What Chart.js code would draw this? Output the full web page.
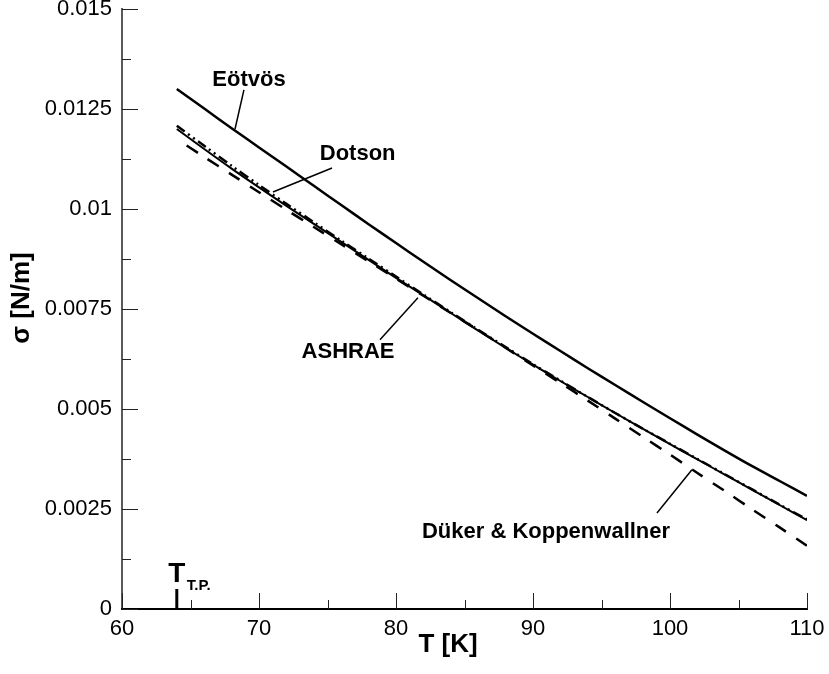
<!DOCTYPE html>
<html>
<head>
<meta charset="utf-8">
<script src="https://cdn.jsdelivr.net/npm/chart.js@4/dist/chart.umd.min.js"></script>
<style>
  html, body { margin: 0; padding: 0; background: #fff; }
  #wrap { width: 829px; height: 674px; }
</style>
</head>
<body>
<div id="wrap"><canvas id="sigmaChart"></canvas></div>
<script>
// temperatures [K] and surface tension [N/m] for liquid nitrogen
const temps  = [64, 66, 68, 70, 72, 74, 76, 78, 80, 82, 84, 86, 88, 90, 92, 94, 96, 98, 100, 102, 104, 106, 108, 110];
const eotvos = [0.01300, 0.01251, 0.01202, 0.01154, 0.01106, 0.01058, 0.01010, 0.00962, 0.00915, 0.00868, 0.00822, 0.00777,
                0.00732, 0.00688, 0.00645, 0.00602, 0.00560, 0.00518, 0.00477, 0.00436, 0.00396, 0.00357, 0.00320, 0.00283];
const dotson = [0.01208, 0.01158, 0.01108, 0.01060, 0.01013, 0.00967, 0.00921, 0.00876, 0.00831, 0.00786, 0.00742, 0.00698,
                0.00655, 0.00612, 0.00571, 0.00530, 0.00490, 0.00451, 0.00413, 0.00375, 0.00337, 0.00299, 0.00261, 0.00224];
const ashrae = [0.01200, 0.01150, 0.01101, 0.01054, 0.01008, 0.00963, 0.00918, 0.00873, 0.00828, 0.00784, 0.00740, 0.00696,
                0.00653, 0.00611, 0.00570, 0.00530, 0.00490, 0.00451, 0.00412, 0.00374, 0.00336, 0.00298, 0.00260, 0.00222];
const duker  = [0.01175, 0.01130, 0.01086, 0.01042, 0.00998, 0.00955, 0.00912, 0.00869, 0.00826, 0.00783, 0.00740, 0.00697,
                0.00653, 0.00609, 0.00565, 0.00521, 0.00476, 0.00431, 0.00386, 0.00340, 0.00295, 0.00249, 0.00204, 0.00158];

const xTicks = [60, 70, 80, 90, 100, 110];
const yTicks = [0, 0.0025, 0.005, 0.0075, 0.01, 0.0125, 0.015];

// triple point marker
const tTP = 64;
const tpMarkHeight = 0.0005;

// curve labels with leader lines (data coordinates)
const curveLabels = [
  { text: 'Eötvös', at: [69.27, 0.013225], from: [68.9, 0.01298], to: [68.25, 0.0120] },
  { text: 'Dotson', at: [77.2, 0.01138], from: [75.33, 0.011025], to: [71.02, 0.010425] },
  { text: 'ASHRAE', at: [76.5, 0.00643], from: [78.83, 0.00673], to: [81.6, 0.00778] },
  { text: 'Düker & Koppenwallner', at: [90.95, 0.00193], from: [99.05, 0.0024], to: [101.6, 0.00348] }
];

const FONT = "'Liberation Sans', Arial, sans-serif";

const toPoints = ys => temps.map((t, i) => ({ x: t, y: ys[i] }));

// axis lines, inward ticks, labels and axis titles
const frame = {
  id: 'frame',
  afterDraw(chart) {
    const { ctx, chartArea: a, scales: { x, y } } = chart;
    ctx.save();

    // axes
    ctx.strokeStyle = '#222';
    ctx.lineWidth = 1.5;
    ctx.beginPath();
    ctx.moveTo(a.left, a.top - 1);
    ctx.lineTo(a.left, a.bottom);
    ctx.stroke();
    ctx.strokeStyle = '#000';
    ctx.lineWidth = 2;
    ctx.beginPath();
    ctx.moveTo(a.left - 1, a.bottom);
    ctx.lineTo(a.right + 1, a.bottom);
    ctx.stroke();

    // ticks pointing into the plot
    ctx.lineWidth = 1;
    ctx.strokeStyle = '#222';
    ctx.beginPath();
    for (let i = 0; i < xTicks.length; i++) {
      const px = Math.round(x.getPixelForValue(xTicks[i])) + 0.5;
      ctx.moveTo(px, a.bottom); ctx.lineTo(px, a.bottom - 16);
      if (i < xTicks.length - 1) {
        const pm = Math.round(x.getPixelForValue((xTicks[i] + xTicks[i + 1]) / 2)) + 0.5;
        ctx.moveTo(pm, a.bottom); ctx.lineTo(pm, a.bottom - 9);
      }
    }
    for (let i = 0; i < yTicks.length; i++) {
      const py = Math.round(y.getPixelForValue(yTicks[i])) + 0.5;
      ctx.moveTo(a.left, py); ctx.lineTo(a.left + 16, py);
      if (i < yTicks.length - 1) {
        const pm = Math.round(y.getPixelForValue((yTicks[i] + yTicks[i + 1]) / 2)) + 0.5;
        ctx.moveTo(a.left, pm); ctx.lineTo(a.left + 9, pm);
      }
    }
    ctx.stroke();

    // curve labels and leaders
    ctx.fillStyle = '#000';
    ctx.strokeStyle = '#000';
    ctx.lineWidth = 1.5;
    ctx.font = 'bold 22px ' + FONT;
    ctx.textAlign = 'center';
    ctx.textBaseline = 'middle';
    curveLabels.forEach(l => {
      ctx.fillText(l.text, x.getPixelForValue(l.at[0]), y.getPixelForValue(l.at[1]));
      ctx.beginPath();
      ctx.moveTo(x.getPixelForValue(l.from[0]), y.getPixelForValue(l.from[1]));
      ctx.lineTo(x.getPixelForValue(l.to[0]), y.getPixelForValue(l.to[1]));
      ctx.stroke();
    });

    // triple point label
    const tpx = x.getPixelForValue(tTP);
    const tpy = y.getPixelForValue(tpMarkHeight);
    ctx.font = 'bold 28px ' + FONT;
    ctx.textAlign = 'center';
    ctx.textBaseline = 'alphabetic';
    ctx.fillText('T', tpx, tpy - 7);
    ctx.font = 'bold 15px ' + FONT;
    ctx.textAlign = 'left';
    ctx.fillText('T.P.', tpx + 10, tpy + 1);

    // axis titles
    ctx.font = 'bold 26px ' + FONT;
    ctx.textAlign = 'center';
    ctx.textBaseline = 'middle';
    ctx.fillText('T [K]', 448, 645);
    ctx.translate(22, 298);
    ctx.rotate(-Math.PI / 2);
    ctx.fillText('σ [N/m]', 0, 0);

    ctx.restore();
  }
};

new Chart(document.getElementById('sigmaChart'), {
  type: 'line',
  data: {
    datasets: [
      { label: 'Eötvös', data: toPoints(eotvos), borderColor: '#000', borderWidth: 2.5 },
      { label: 'ASHRAE', data: toPoints(ashrae), borderColor: '#000', borderWidth: 2 },
      { label: 'Dotson', data: toPoints(dotson), borderColor: '#000', borderWidth: 2.5,
        borderDash: [10, 4, 2, 4, 2, 4] },
      { label: 'Düker & Koppenwallner', data: toPoints(duker), borderColor: '#000', borderWidth: 2.5,
        borderDash: [13, 12], borderDashOffset: 13 },
      { label: 'T.P.', data: [{ x: tTP, y: 0 }, { x: tTP, y: tpMarkHeight }], borderColor: '#000',
        borderWidth: 3, tension: 0 }
    ]
  },
  options: {
    responsive: true,
    maintainAspectRatio: false,
    animation: false,
    events: [],
    layout: { padding: 0 },
    elements: {
      point: { radius: 0 },
      line: { tension: 0.3, borderCapStyle: 'butt', fill: false }
    },
    plugins: { legend: { display: false }, tooltip: { enabled: false } },
    scales: {
      x: {
        type: 'linear',
        min: 60, max: 110,
        afterFit: s => { s.height = 65; s.paddingLeft = 0; s.paddingRight = 22; },
        afterBuildTicks: s => { s.ticks = xTicks.map(v => ({ value: v })); },
        grid: { display: false, drawTicks: false },
        border: { display: false },
        ticks: { color: '#000', padding: 7, font: { family: FONT, size: 22 } }
      },
      y: {
        type: 'linear',
        min: 0, max: 0.015,
        afterFit: s => { s.width = 122; s.paddingTop = 9; s.paddingBottom = 0; },
        afterBuildTicks: s => { s.ticks = yTicks.map(v => ({ value: v })); },
        grid: { display: false, drawTicks: false },
        border: { display: false },
        ticks: { color: '#000', padding: 10, font: { family: FONT, size: 22 },
          callback: v => String(v) }
      }
    }
  },
  plugins: [frame]
});
</script>
</body>
</html>
